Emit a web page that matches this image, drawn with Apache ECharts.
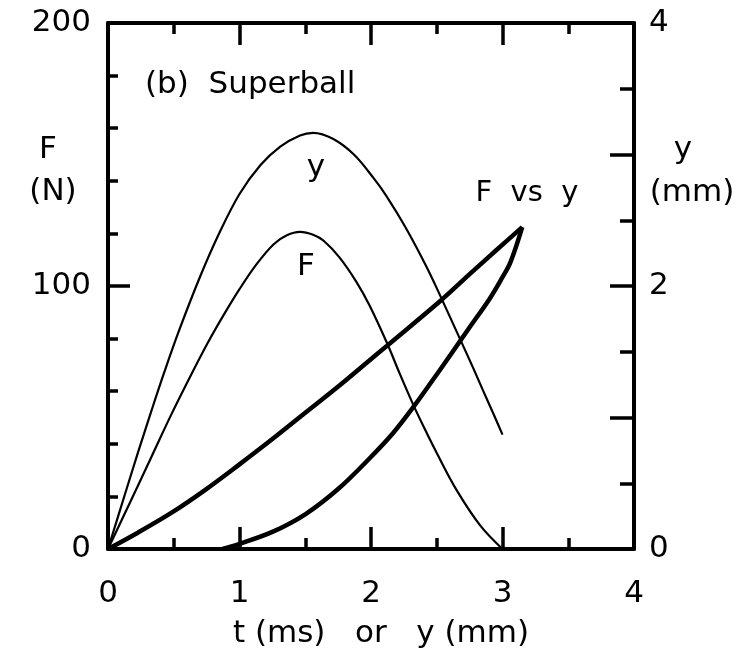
<!DOCTYPE html>
<html>
<head>
<meta charset="utf-8">
<script src="https://cdn.jsdelivr.net/npm/echarts@6/dist/echarts.min.js"></script>
<style>
html,body{margin:0;padding:0;background:#fff;}
#chart{width:745px;height:659px;}
</style>
</head>
<body>
<div id="chart"></div>
<script>
// ---- data ----
// displacement y(t) [mm] vs time t [ms]
var tDisp = [0, 0.13, 0.23, 0.33, 0.43, 0.54, 0.70, 0.85, 1.00, 1.16, 1.31, 1.46, 1.56, 1.71, 1.87, 2.02, 2.12, 2.26, 2.42, 2.52, 2.68, 2.78, 2.85, 2.93, 3.00];
var yDisp = [0, 0.42, 0.74, 1.05, 1.35, 1.66, 2.07, 2.41, 2.70, 2.92, 3.06, 3.145, 3.165, 3.12, 3.00, 2.82, 2.68, 2.45, 2.15, 1.94, 1.59, 1.37, 1.21, 1.03, 0.87];
// force F(t) [N] vs time t [ms]
var tForce = [0, 0.18, 0.33, 0.48, 0.64, 0.76, 0.88, 1.00, 1.13, 1.26, 1.36, 1.46, 1.56, 1.64, 1.76, 1.89, 1.99, 2.12, 2.22, 2.32, 2.41, 2.50, 2.65, 2.83, 3.00];
var fForce = [0, 19, 35, 51, 67, 78.5, 89, 98.8, 108.3, 115.9, 119.3, 120.6, 119.5, 117.2, 110.9, 101.5, 92.5, 78.5, 66.5, 55, 45.5, 36.5, 22.5, 9, 0];
// F vs y loop: loading branch
var loadY = [0, 0.23, 0.49, 0.74, 0.99, 1.25, 1.50, 1.76, 1.99, 2.12, 2.52, 2.75, 2.95, 3.15];
var loadF = [0, 6.3, 14.0, 22.5, 31.8, 41.8, 51.8, 62.2, 71.8, 77.2, 94, 104.5, 113.5, 122.4];
// F vs y loop: unloading branch
var unloadY = [3.15, 3.06, 2.99, 2.90, 2.75, 2.69, 2.52, 2.33, 2.17, 1.99, 1.75, 1.50, 1.25, 0.99, 0.87];
var unloadF = [122.4, 109, 102.5, 95, 84.3, 80, 67.8, 54.5, 44.2, 34.5, 22.8, 13.2, 6.5, 1.8, 0];
// tick labels
var xTickLabels = [0, 1, 2, 3, 4];
var leftTickLabels = [0, 100, 200];
var rightTickLabels = [0, 2, 4];

function pairs(a, b) { return a.map(function (v, i) { return [v, b[i]]; }); }

var FONT = 'DejaVu Sans';
var FS = 31;
var chart = echarts.init(document.getElementById('chart'));

function axisCommon(extra) {
  var base = {
    type: 'value',
    axisLine: { show: true, onZero: false, lineStyle: { color: '#000', width: 4 } },
    splitLine: { show: false },
    axisTick: { show: true, inside: true, length: 22, lineStyle: { color: '#000', width: 3.5 } },
    minorTick: { show: true, splitNumber: 2, length: 11, lineStyle: { color: '#000', width: 3.5 } },
    axisLabel: { color: '#000', fontFamily: FONT, fontSize: FS }
  };
  return Object.assign(base, extra);
}

function label(txt, x, y, size) {
  return { type: 'text', x: x, y: y, style: { text: txt, fontFamily: FONT, fontSize: size || FS, fill: '#000', textAlign: 'center', textVerticalAlign: 'middle' } };
}

var lineCommon = { type: 'line', showSymbol: false, smooth: 0.35, xAxisIndex: 0 };

var option = {
  animation: false,
  backgroundColor: '#fff',
  title: {
    text: '(b)  Superball',
    left: 145, top: 69, padding: 0,
    textStyle: { fontFamily: FONT, fontSize: FS, fontWeight: 'normal', color: '#000' }
  },
  grid: { left: 108, top: 23, width: 526, height: 526, containLabel: false },
  xAxis: [
    axisCommon({
      min: 0, max: 4, interval: 1, position: 'bottom',
      axisLabel: {
        color: '#000', fontFamily: FONT, fontSize: FS, margin: 29,
        formatter: function (v) { return xTickLabels.indexOf(v) >= 0 ? String(v) : ''; }
      },
      name: 't (ms)   or   y (mm)', nameLocation: 'middle', nameGap: 69,
      nameTextStyle: { color: '#000', fontFamily: FONT, fontSize: FS, padding: [0, 0, 0, 20] }
    }),
    axisCommon({
      min: 0, max: 4, interval: 1, position: 'top',
      axisLabel: { show: false }
    })
  ],
  yAxis: [
    axisCommon({
      min: 0, max: 200, interval: 100, position: 'left',
      minorTick: { show: true, splitNumber: 5, length: 10, lineStyle: { color: '#000', width: 3.5 } },
      axisLabel: {
        color: '#000', fontFamily: FONT, fontSize: FS, margin: 17,
        formatter: function (v) { return leftTickLabels.indexOf(v) >= 0 ? String(v) : ''; }
      }
    }),
    axisCommon({
      min: 0, max: 4, interval: 1, position: 'right',
      axisTick: { show: true, inside: true, length: 24, lineStyle: { color: '#000', width: 3.5 } },
      minorTick: { show: true, splitNumber: 2, length: 14, lineStyle: { color: '#000', width: 3.5 } },
      axisLabel: {
        color: '#000', fontFamily: FONT, fontSize: FS, margin: 15,
        formatter: function (v) { return rightTickLabels.indexOf(v) >= 0 ? String(v) : ''; }
      }
    })
  ],
  series: [
    Object.assign({}, lineCommon, {
      name: 'y', yAxisIndex: 1, data: pairs(tDisp, yDisp),
      lineStyle: { color: '#000', width: 2.2 }
    }),
    Object.assign({}, lineCommon, {
      name: 'F', yAxisIndex: 0, data: pairs(tForce, fForce),
      lineStyle: { color: '#000', width: 2.2 }
    }),
    Object.assign({}, lineCommon, {
      name: 'F vs y (loading)', yAxisIndex: 0, data: pairs(loadY, loadF),
      lineStyle: { color: '#000', width: 4.5 }
    }),
    Object.assign({}, lineCommon, {
      name: 'F vs y (unloading)', yAxisIndex: 0, data: pairs(unloadY, unloadF),
      lineStyle: { color: '#000', width: 4.5 }
    })
  ],
  graphic: [
    label('F', 48, 150),
    label('(N)', 53, 192),
    label('y', 683, 150),
    label('(mm)', 692, 193),
    label('y', 316, 168),
    label('F', 306, 267),
    label('F  vs  y', 527, 193, 29)
  ]
};
chart.setOption(option);
</script>
</body>
</html>
